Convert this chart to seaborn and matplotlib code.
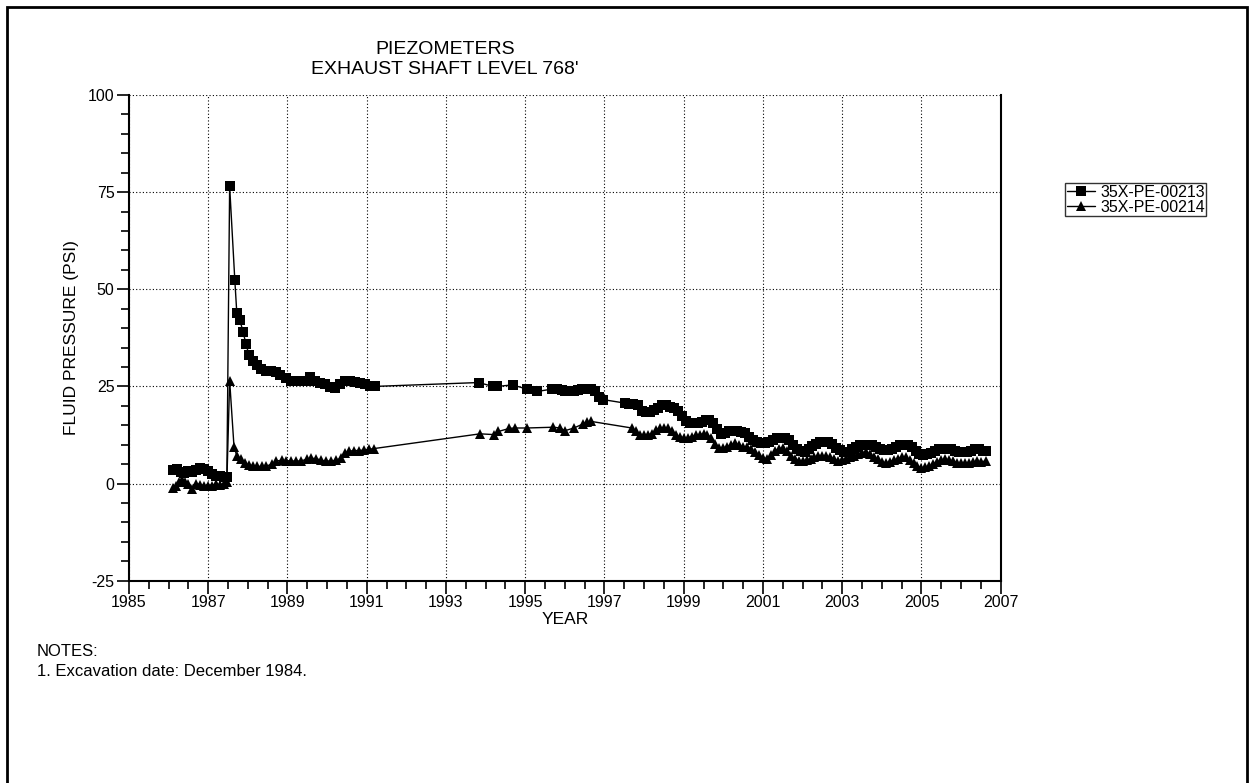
import numpy as np
import pandas as pd
import matplotlib
matplotlib.use("Agg")
import matplotlib.pyplot as plt
from matplotlib.patches import Rectangle
from matplotlib.ticker import MultipleLocator
import seaborn as sns

# ---- data -----------------------------------------------------------------
years_213 = [
    1986.10, 1986.20, 1986.30, 1986.40, 1986.50, 1986.60, 1986.70, 1986.80, 1986.90, 1987.00,
    1987.10, 1987.20, 1987.30, 1987.40, 1987.47,
    1987.54, 1987.67, 1987.72, 1987.80, 1987.88, 1987.95, 1988.03, 1988.12, 1988.22, 1988.33,
    1988.45, 1988.58, 1988.70, 1988.82, 1988.95, 1989.08, 1989.20, 1989.33, 1989.45, 1989.58,
    1989.70, 1989.82, 1989.95, 1990.08, 1990.20, 1990.32, 1990.45, 1990.58, 1990.70, 1990.82,
    1990.95, 1991.08, 1991.20,
    1993.83, 1994.18, 1994.30, 1994.68, 1995.04, 1995.30, 1995.67, 1995.79, 1995.92, 1996.01,
    1996.12, 1996.22, 1996.33, 1996.43, 1996.55, 1996.66, 1996.76, 1996.85, 1996.97,
    1997.52, 1997.62, 1997.72, 1997.85, 1997.95, 1998.05, 1998.15, 1998.25, 1998.35, 1998.45,
    1998.55, 1998.65, 1998.75, 1998.85, 1998.95, 1999.05, 1999.15, 1999.25, 1999.35, 1999.45,
    1999.55, 1999.65, 1999.75, 1999.85, 1999.95, 2000.05, 2000.15, 2000.25, 2000.35, 2000.45,
    2000.55, 2000.65, 2000.75, 2000.85, 2000.95, 2001.05, 2001.15, 2001.25, 2001.35, 2001.45,
    2001.55, 2001.65, 2001.75, 2001.85, 2001.95, 2002.05, 2002.15, 2002.25, 2002.35, 2002.45,
    2002.55, 2002.65, 2002.75, 2002.85, 2002.95, 2003.05, 2003.15, 2003.25, 2003.35, 2003.45,
    2003.55, 2003.65, 2003.75, 2003.85, 2003.95, 2004.05, 2004.15, 2004.25, 2004.35, 2004.45,
    2004.55, 2004.65, 2004.75, 2004.85, 2004.95, 2005.05, 2005.15, 2005.25, 2005.35, 2005.45,
    2005.55, 2005.65, 2005.75, 2005.85, 2005.95, 2006.05, 2006.15, 2006.25, 2006.35, 2006.45,
    2006.55, 2006.62,
]
psi_213 = [
    3.6, 3.8, 3.0, 2.6, 3.2, 3.0, 3.6, 4.0, 3.8, 3.2,
    2.4, 2.0, 2.0, 1.8, 1.8,
    76.5, 52.5, 44.0, 42.0, 39.0, 36.0, 33.0, 31.5, 30.5, 29.5,
    29.0, 29.0, 28.8, 28.0, 27.2, 26.5, 26.3, 26.3, 26.5, 27.3,
    26.5, 26.0, 25.5, 24.8, 24.5, 25.5, 26.3, 26.3, 26.2, 26.0,
    25.5, 25.0, 25.0,
    26.0, 25.0, 25.0, 25.4, 24.3, 23.7, 24.3, 24.3, 24.0, 23.7,
    23.9, 23.9, 24.1, 24.3, 24.3, 24.3, 23.7, 22.4, 21.6,
    20.7, 20.6, 20.5, 20.3, 18.8, 18.4, 18.4, 19.0, 19.4, 20.2,
    20.2, 19.8, 19.5, 18.6, 17.5, 16.0, 15.5, 15.5, 15.5, 15.8,
    16.4, 16.4, 15.6, 14.0, 12.8, 13.0, 13.4, 13.4, 13.4, 13.2,
    13.0, 12.0, 11.2, 10.8, 10.5, 10.5, 10.8, 11.2, 11.8, 11.8,
    11.6, 11.2, 10.0, 9.0, 8.4, 8.2, 8.8, 9.6, 10.2, 10.6,
    10.8, 10.6, 10.2, 9.2, 8.6, 8.2, 8.2, 8.8, 9.4, 9.8,
    10.0, 10.0, 9.8, 9.4, 9.0, 8.7, 8.7, 9.0, 9.4, 9.8,
    10.0, 9.8, 9.3, 8.4, 7.5, 7.4, 7.6, 7.8, 8.3, 8.8,
    9.0, 8.9, 8.8, 8.4, 8.2, 8.0, 8.0, 8.3, 8.8, 8.8,
    8.5, 8.5,
]

years_214 = [
    1986.10, 1986.18, 1986.26, 1986.34, 1986.42, 1986.50, 1986.60, 1986.70, 1986.80, 1986.90,
    1987.00, 1987.10, 1987.20, 1987.30, 1987.40, 1987.47,
    1987.54, 1987.65, 1987.72, 1987.82, 1987.92, 1988.02, 1988.12, 1988.22, 1988.35, 1988.47,
    1988.60, 1988.72, 1988.85, 1988.97, 1989.10, 1989.22, 1989.35, 1989.48, 1989.60, 1989.73,
    1989.85, 1989.97, 1990.10, 1990.22, 1990.35, 1990.45, 1990.55, 1990.67, 1990.80, 1990.92,
    1991.05, 1991.18,
    1993.86, 1994.21, 1994.32, 1994.60, 1994.74, 1995.04, 1995.71, 1995.88, 1996.00, 1996.23,
    1996.47, 1996.57, 1996.66,
    1997.69, 1997.80, 1997.90, 1998.00, 1998.10, 1998.20, 1998.30, 1998.40, 1998.50, 1998.60,
    1998.70, 1998.80, 1998.90, 1999.00, 1999.10, 1999.20, 1999.30, 1999.40, 1999.50, 1999.60,
    1999.70, 1999.80, 1999.90, 2000.00, 2000.10, 2000.20, 2000.30, 2000.40, 2000.50, 2000.60,
    2000.70, 2000.80, 2000.90, 2001.00, 2001.10, 2001.20, 2001.30, 2001.40, 2001.50, 2001.60,
    2001.70, 2001.80, 2001.90, 2002.00, 2002.10, 2002.20, 2002.30, 2002.40, 2002.50, 2002.60,
    2002.70, 2002.80, 2002.90, 2003.00, 2003.10, 2003.20, 2003.30, 2003.40, 2003.50, 2003.60,
    2003.70, 2003.80, 2003.90, 2004.00, 2004.10, 2004.20, 2004.30, 2004.40, 2004.50, 2004.60,
    2004.70, 2004.80, 2004.90, 2005.00, 2005.10, 2005.20, 2005.30, 2005.40, 2005.50, 2005.60,
    2005.70, 2005.80, 2005.90, 2006.00, 2006.10, 2006.20, 2006.30, 2006.40, 2006.50, 2006.62,
]
psi_214 = [
    -1.2, -0.6, 0.3, 1.0, 0.5, 0.0, -1.5, 0.0, -0.3, -0.5,
    -0.5, -0.5, -0.2, -0.3, 0.0, 0.5,
    26.5, 9.5, 7.2, 6.3, 5.2, 4.8, 4.6, 4.4, 4.4, 4.5,
    5.0, 5.8, 6.0, 5.9, 5.8, 5.8, 5.8, 6.3, 6.5, 6.4,
    6.0, 5.8, 5.8, 6.0, 6.5, 7.8, 8.3, 8.5, 8.5, 8.6,
    8.8, 9.0,
    12.8, 12.6, 13.4, 14.2, 14.3, 14.3, 14.5, 14.3, 13.6, 14.3,
    15.4, 15.9, 16.0,
    14.3, 13.4, 12.6, 12.6, 12.6, 12.8, 13.8, 14.3, 14.3, 14.3,
    13.5, 12.4, 12.0, 11.8, 11.8, 12.0, 12.4, 12.6, 12.8, 12.6,
    11.6, 10.2, 9.2, 9.2, 9.5, 10.0, 10.4, 9.8, 9.4, 9.4,
    8.8, 8.0, 7.4, 6.6, 6.4, 7.4, 8.4, 9.0, 9.2, 8.4,
    7.2, 6.4, 5.8, 5.8, 6.0, 6.3, 6.8, 7.0, 7.0, 7.0,
    6.8, 6.2, 5.8, 6.0, 6.4, 6.8, 7.2, 7.5, 7.8, 8.0,
    7.6, 6.8, 6.2, 5.6, 5.3, 5.6, 6.0, 6.4, 6.8, 6.8,
    6.0, 5.3, 4.5, 4.0, 4.2, 4.4, 5.0, 5.6, 6.0, 6.2,
    6.0, 5.7, 5.4, 5.3, 5.3, 5.3, 5.5, 5.7, 5.6, 5.8,
]

series_names = ["35X-PE-00213", "35X-PE-00214"]
x_ticks = [1985, 1987, 1989, 1991, 1993, 1995, 1997, 1999, 2001, 2003, 2005, 2007]
y_ticks = [-25, 0, 25, 50, 75, 100]

# ---- style ----------------------------------------------------------------
sns.set_theme(style="white")
plt.rcParams["font.family"] = ["Liberation Sans", "DejaVu Sans"]
plt.rcParams["axes.unicode_minus"] = False
plt.rcParams["axes.edgecolor"] = "black"
plt.rcParams["text.color"] = "black"
plt.rcParams["xtick.color"] = "black"
plt.rcParams["ytick.color"] = "black"
plt.rcParams["axes.labelcolor"] = "black"

fig = plt.figure(figsize=(12.54, 7.83), dpi=100)
ax = fig.add_axes([129 / 1254, 1 - 580.7 / 783, (1000.7 - 129) / 1254, (580.7 - 95) / 783])

df = pd.concat([
    pd.DataFrame({"year": years_213, "psi": psi_213, "well": series_names[0]}),
    pd.DataFrame({"year": years_214, "psi": psi_214, "well": series_names[1]}),
])

sns.lineplot(data=df[df.well == series_names[0]], x="year", y="psi", ax=ax,
             color="black", lw=1.0, marker="s", markersize=7, markeredgewidth=0,
             estimator=None, label=series_names[0])
sns.lineplot(data=df[df.well == series_names[1]], x="year", y="psi", ax=ax,
             color="black", lw=1.0, marker="^", markersize=7, markeredgewidth=0,
             estimator=None, label=series_names[1])

ax.set_xlim(1985, 2007)
ax.set_ylim(-25, 100)
ax.set_xticks(x_ticks)
ax.set_yticks(y_ticks)
ax.xaxis.set_minor_locator(MultipleLocator(0.5))
ax.yaxis.set_minor_locator(MultipleLocator(5))
ax.tick_params(axis="both", which="major", direction="out", length=9, width=1.2,
               labelsize=11.5, pad=1.5)
ax.tick_params(axis="both", which="minor", direction="out", length=6, width=1.2)
ax.tick_params(axis="x", which="both", bottom=True)
ax.tick_params(axis="y", which="both", left=True)

ax.grid(True, which="major", color="black", linestyle=(0, (1, 2)), linewidth=0.8)
for side in ["left", "bottom", "right"]:
    ax.spines[side].set_visible(True)
    ax.spines[side].set_linewidth(1.5)
    ax.spines[side].set_color("black")
ax.spines["top"].set_visible(False)

ax.set_xlabel("YEAR", fontsize=12.5, labelpad=1)
ax.set_ylabel("FLUID PRESSURE (PSI)", fontsize=12.5, labelpad=6)

fig.text(445 / 1254, 1 - 49 / 783, "PIEZOMETERS", ha="center", va="center", fontsize=14)
fig.text(445 / 1254, 1 - 69 / 783, "EXHAUST SHAFT LEVEL 768'", ha="center", va="center",
         fontsize=14)

leg = ax.legend(loc="upper left", bbox_to_anchor=(1065 / 1254, 1 - 183 / 783),
                bbox_transform=fig.transFigure, frameon=True, fancybox=False,
                fontsize=11.5, handlelength=1.8, handletextpad=0.3, borderpad=0.1,
                labelspacing=0.0, borderaxespad=0)
leg.get_frame().set_edgecolor("black")
leg.get_frame().set_linewidth(1.0)

fig.text(37 / 1254, 1 - 652 / 783, "NOTES:", ha="left", va="center", fontsize=12)
fig.text(37 / 1254, 1 - 671 / 783, "1. Excavation date: December 1984.", ha="left",
         va="center", fontsize=12)

# outer drawing frame
fig.patches.append(Rectangle((7 / 1254, -0.05), (1247 - 7) / 1254, 1.05 - 7 / 783,
                             transform=fig.transFigure, fill=False, edgecolor="black",
                             linewidth=2))

fig.savefig("out.png", dpi=100)
